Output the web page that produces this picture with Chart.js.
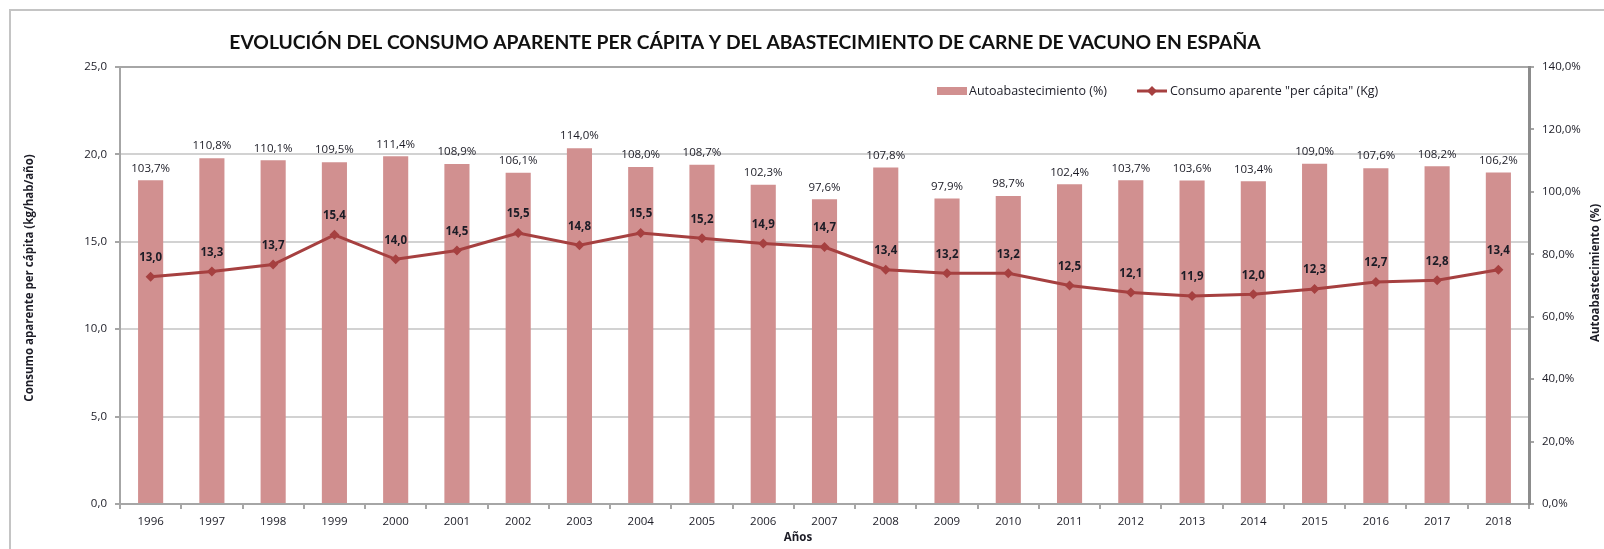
<!DOCTYPE html>
<html>
<head>
<meta charset="utf-8">
<script src="https://cdn.jsdelivr.net/npm/chart.js@4.4.1/dist/chart.umd.min.js"></script>
<style>
  html, body { margin: 0; padding: 0; background: #fff; }
  #wrap { width: 1604px; height: 549px; position: relative; }
</style>
</head>
<body>
<div id="wrap"><canvas id="c" width="1604" height="549"></canvas></div>
<script>
const years = ['1996','1997','1998','1999','2000','2001','2002','2003','2004','2005','2006','2007','2008','2009','2010','2011','2012','2013','2014','2015','2016','2017','2018'];
const autoabastecimiento = [103.7,110.8,110.1,109.5,111.4,108.9,106.1,114.0,108.0,108.7,102.3,97.6,107.8,97.9,98.7,102.4,103.7,103.6,103.4,109.0,107.6,108.2,106.2];
const consumo = [13.0,13.3,13.7,15.4,14.0,14.5,15.5,14.8,15.5,15.2,14.9,14.7,13.4,13.2,13.2,12.5,12.1,11.9,12.0,12.3,12.7,12.8,13.4];
const leftTicks = ['0,0','5,0','10,0','15,0','20,0','25,0'];
const rightTicks = ['0,0%','20,0%','40,0%','60,0%','80,0%','100,0%','120,0%','140,0%'];

const titleText = 'EVOLUCIÓN DEL CONSUMO APARENTE PER CÁPITA Y DEL ABASTECIMIENTO DE CARNE DE VACUNO EN ESPAÑA';
const leftTitle = 'Consumo aparente per cápita (kg/hab/año)';
const rightTitle = 'Autoabastecimiento (%)';
const xTitle = 'Años';
const barLabel = 'Autoabastecimiento (%)';
const lineLabel = 'Consumo aparente "per cápita" (Kg)';

const FONT = '"Open Sans"';
const TITLE_FONT = 'Lato';
const BAR_COLOR = 'rgb(209,144,144)';
const LINE_COLOR = 'rgb(166,64,64)';
const TEXT = '#1c1c26';

const fmt = v => v.toFixed(1).replace('.', ',');

const decor = {
  id: 'decor',
  beforeDraw(chart) {
    const ctx = chart.ctx;
    ctx.save();
    ctx.strokeStyle = '#c4c4c4';
    ctx.lineWidth = 2;
    ctx.beginPath();
    ctx.moveTo(10, 549);
    ctx.lineTo(10, 10);
    ctx.lineTo(1604, 10);
    ctx.stroke();
    ctx.restore();
  },
  afterDatasetsDraw(chart) {
    const ctx = chart.ctx;
    ctx.save();
    ctx.textAlign = 'center';
    ctx.textBaseline = 'middle';
    ctx.fillStyle = TEXT;
    const barMeta = chart.getDatasetMeta(0);
    ctx.font = '11.5px ' + FONT;
    barMeta.data.forEach((el, i) => {
      ctx.fillText(fmt(autoabastecimiento[i]) + '%', el.x, el.y - 12);
    });
    const lineMeta = chart.getDatasetMeta(1);
    ctx.font = 'bold 11.5px ' + FONT;
    lineMeta.data.forEach((el, i) => {
      ctx.fillText(fmt(consumo[i]), el.x, el.y - 19);
    });

    // Title
    ctx.font = 'bold 19.3px ' + TITLE_FONT;
    ctx.fillStyle = '#111';
    ctx.fillText(titleText, 745, 43);

    // Legend
    ctx.fillStyle = BAR_COLOR;
    ctx.fillRect(937, 87, 30, 8);
    ctx.font = '12.5px ' + FONT;
    ctx.fillStyle = TEXT;
    ctx.textAlign = 'left';
    ctx.fillText(barLabel, 969, 91);
    ctx.strokeStyle = LINE_COLOR;
    ctx.lineWidth = 3;
    ctx.beginPath();
    ctx.moveTo(1137, 91);
    ctx.lineTo(1167, 91);
    ctx.stroke();
    ctx.fillStyle = LINE_COLOR;
    ctx.beginPath();
    ctx.moveTo(1152, 86); ctx.lineTo(1157, 91); ctx.lineTo(1152, 96); ctx.lineTo(1147, 91);
    ctx.closePath(); ctx.fill();
    ctx.fillStyle = TEXT;
    ctx.fillText(lineLabel, 1170, 91);

    // Axis titles
    ctx.textAlign = 'center';
    ctx.font = 'bold 11.5px ' + FONT;
    ctx.fillText(xTitle, 798, 538);
    ctx.save();
    ctx.translate(30, 278);
    ctx.rotate(-Math.PI / 2);
    ctx.font = 'bold 11.5px ' + FONT;
    ctx.fillText(leftTitle, 0, 0);
    ctx.restore();
    ctx.save();
    ctx.translate(1596, 273);
    ctx.rotate(-Math.PI / 2);
    ctx.font = 'bold 11.5px ' + FONT;
    ctx.fillText(rightTitle, 0, 0);
    ctx.restore();
    ctx.restore();
  }
};

new Chart(document.getElementById('c'), {
  data: {
    labels: years,
    datasets: [
      {
        type: 'bar',
        label: barLabel,
        data: autoabastecimiento,
        yAxisID: 'y2',
        backgroundColor: BAR_COLOR,
        borderWidth: 0,
        categoryPercentage: 1,
        barPercentage: 0.41,
        order: 2
      },
      {
        type: 'line',
        label: lineLabel,
        data: consumo,
        yAxisID: 'y',
        borderColor: LINE_COLOR,
        backgroundColor: LINE_COLOR,
        borderWidth: 3,
        pointStyle: 'rectRot',
        pointRadius: 5,
        pointBorderWidth: 0,
        tension: 0,
        order: 1
      }
    ]
  },
  options: {
    responsive: false,
    animation: false,
    devicePixelRatio: 1,
    layout: { padding: { top: 67, left: 0, right: 0, bottom: 0 } },
    plugins: {
      legend: { display: false },
      title: { display: false },
      tooltip: { enabled: false }
    },
    scales: {
      x: {
        offset: true,
        grid: { offset: true, drawOnChartArea: false, drawTicks: true, tickLength: 5, color: '#a6a6a6', lineWidth: 2 },
        border: { color: '#a6a6a6', width: 2 },
        ticks: { color: TEXT, font: { family: FONT, size: 11.5 }, padding: 6, maxRotation: 0, autoSkip: false },
        afterFit: s => { s.height = 45; }
      },
      y: {
        position: 'left',
        min: 0, max: 25,
        ticks: {
          stepSize: 5, padding: 8, color: TEXT, font: { family: FONT, size: 11.5 },
          callback: (v, i) => leftTicks[i]
        },
        grid: {
          color: ctx => (ctx.tick && ctx.tick.value === 25) ? '#a6a6a6' : '#d2d2d2',
          lineWidth: 2, tickLength: 5, tickColor: '#a6a6a6'
        },
        border: { color: '#a6a6a6', width: 2 },
        afterFit: s => { s.width = 120; }
      },
      y2: {
        position: 'right',
        min: 0, max: 140,
        ticks: {
          stepSize: 20, padding: 8, color: TEXT, font: { family: FONT, size: 11.5 },
          callback: (v, i) => rightTicks[i]
        },
        grid: { drawOnChartArea: false, tickLength: 5, color: '#a6a6a6', lineWidth: 2 },
        border: { color: '#8c8c8c', width: 3 },
        afterFit: s => { s.width = 75; }
      }
    }
  },
  plugins: [decor]
});
</script>
</body>
</html>
